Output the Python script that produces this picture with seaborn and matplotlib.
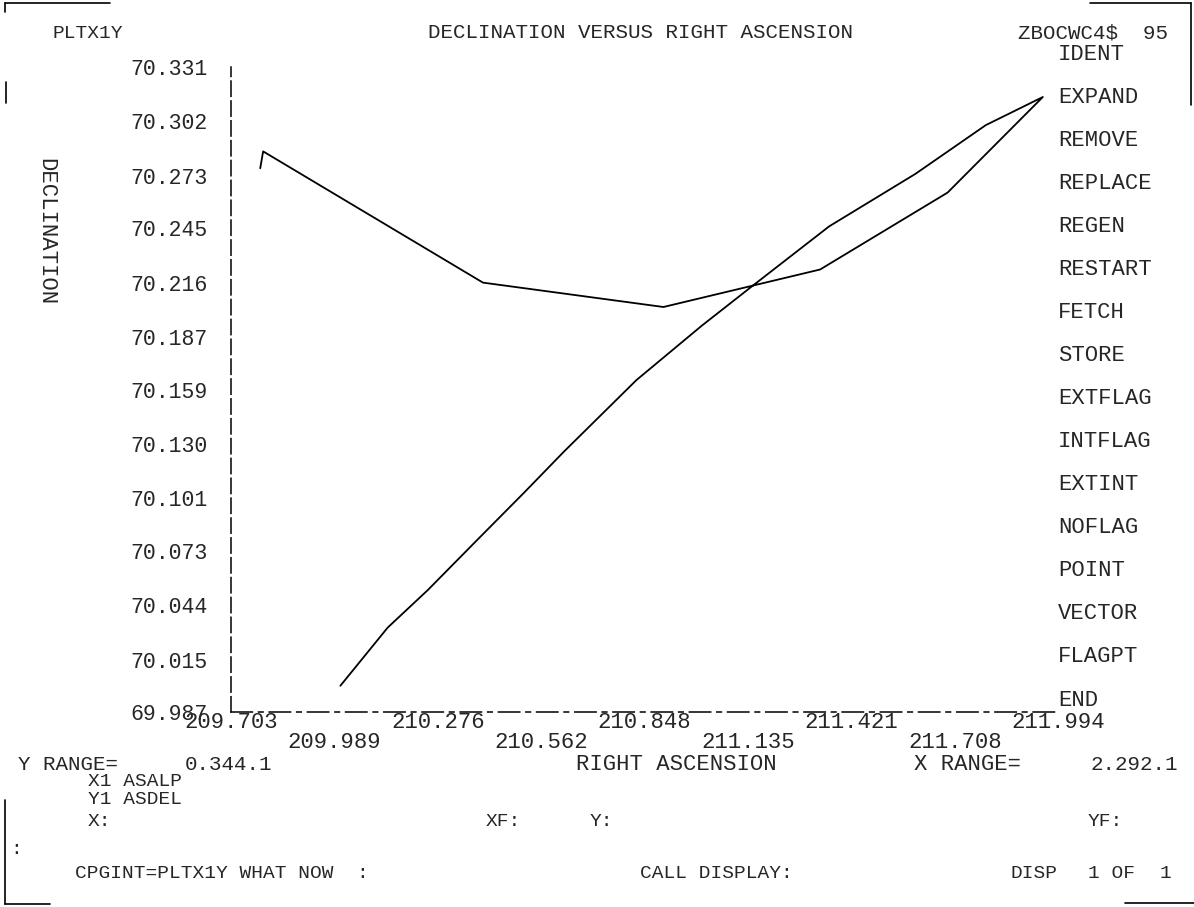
import matplotlib
matplotlib.use("Agg")
import matplotlib.pyplot as plt
import seaborn as sns
from matplotlib.lines import Line2D

# -----------------------------
# DATA
# -----------------------------
ra = [210.006, 210.137, 210.248, 210.376, 210.515, 210.626, 210.826, 211.007,
      211.146, 211.360, 211.599, 211.794, 211.952, 211.688, 211.335, 210.901,
      210.401, 209.792, 209.784]
dec = [70.001, 70.032, 70.052, 70.077, 70.104, 70.126, 70.164, 70.193,
       70.214, 70.246, 70.274, 70.300, 70.315, 70.264, 70.223, 70.203,
       70.216, 70.286, 70.277]

y_tick_labels = ["69.987", "70.015", "70.044", "70.073", "70.101", "70.130", "70.159",
                 "70.187", "70.216", "70.245", "70.273", "70.302", "70.331"]
x_tick_labels = ["209.703", "209.989", "210.276", "210.562", "210.848",
                 "211.135", "211.421", "211.708", "211.994"]

menu_items = ["IDENT", "EXPAND", "REMOVE", "REPLACE", "REGEN", "RESTART", "FETCH",
              "STORE", "EXTFLAG", "INTFLAG", "EXTINT", "NOFLAG", "POINT", "VECTOR",
              "FLAGPT", "END"]

W, H = 1194, 907
FS = 14

sns.set_style("white")
plt.rcParams["font.family"] = ["Liberation Mono", "DejaVu Sans Mono"]

fig = plt.figure(figsize=(W / 100, H / 100), dpi=100)
ax = fig.add_axes([231 / W, 1 - 712 / H, (1058 - 231) / W, (712 - 67) / H])


def px(x, y):
    return x / W, 1 - y / H


# -----------------------------
# PLOT
# -----------------------------
sns.lineplot(x=ra, y=dec, sort=False, estimator=None, color="black",
             linewidth=1.3, ax=ax)

y_ticks = [float(v) for v in y_tick_labels]
x_ticks = [float(v) for v in x_tick_labels]
ax.set_xlim(x_ticks[0], x_ticks[-1])
ax.set_ylim(y_ticks[0], y_ticks[-1])
ax.set_yticks(y_ticks)
ax.set_yticklabels(y_tick_labels, fontsize=15.5)
ax.set_xticks(x_ticks)
ax.set_xticklabels([lab if i % 2 == 0 else "\n" + lab for i, lab in enumerate(x_tick_labels)],
                   fontsize=16, linespacing=0.92)
ax.tick_params(axis="y", length=7, width=1, direction="out", pad=10, color="black")
ax.tick_params(axis="x", length=0, pad=0)
ax.set_xlabel("")
ax.set_ylabel("")

for side in ["top", "right"]:
    ax.spines[side].set_visible(False)
ax.spines["left"].set_color("black")
ax.spines["left"].set_linewidth(1.1)
ax.spines["left"].set_linestyle((0, (10, 3)))
ax.spines["bottom"].set_color("black")
ax.spines["bottom"].set_linewidth(1.1)
ax.spines["bottom"].set_linestyle((0, (14, 4, 3, 4)))

# -----------------------------
# TERMINAL TEXT
# -----------------------------
fig.text(*px(53, 33), "PLTX1Y", fontsize=FS, va="center")
fig.text(*px(640, 33), "DECLINATION VERSUS RIGHT ASCENSION", fontsize=15,
         ha="center", va="center")
fig.text(*px(1168, 33), "ZBOCWC4$  95", fontsize=15, ha="right", va="center")

for i, item in enumerate(menu_items):
    fig.text(*px(1058, 54 + i * 43.07), item, fontsize=16, va="center")

fig.text(*px(46, 232), "DECLINATION", fontsize=16, rotation=270,
         ha="center", va="center")

fig.text(*px(18, 765), "Y RANGE=", fontsize=15, va="center")
fig.text(*px(185, 765), "0.344.1", fontsize=15, va="center")
fig.text(*px(576, 765), "RIGHT ASCENSION", fontsize=16, va="center")
fig.text(*px(914, 765), "X RANGE=", fontsize=16, va="center")
fig.text(*px(1091, 765), "2.292.1", fontsize=15, va="center")

fig.text(*px(88, 782), "X1 ASALP", fontsize=FS, va="center")
fig.text(*px(88, 800), "Y1 ASDEL", fontsize=FS, va="center")
fig.text(*px(88, 822), "X:", fontsize=FS, va="center")
fig.text(*px(486, 822), "XF:", fontsize=FS, va="center")
fig.text(*px(590, 822), "Y:", fontsize=FS, va="center")
fig.text(*px(1088, 822), "YF:", fontsize=FS, va="center")
fig.text(*px(10, 849), ":", fontsize=FS, va="center")
fig.text(*px(75, 874), "CPGINT=PLTX1Y WHAT NOW  :", fontsize=FS, va="center")
fig.text(*px(640, 874), "CALL DISPLAY:", fontsize=FS, va="center")
fig.text(*px(1010, 874), "DISP", fontsize=FS, va="center")
fig.text(*px(1088, 874), "1 OF", fontsize=FS, va="center")
fig.text(*px(1160, 874), "1", fontsize=FS, va="center")

# screen frame marks
frame = [
    [(5, 3), (110, 3)], [(5, 3), (5, 12)], [(6, 82), (6, 103)],
    [(1090, 3), (1191, 3)], [(1191, 3), (1191, 105)],
    [(5, 800), (5, 904)], [(5, 904), (50, 904)], [(1125, 903), (1194, 903)],
]
for (x0, y0), (x1, y1) in frame:
    a, b = px(x0, y0)
    c, d = px(x1, y1)
    fig.add_artist(Line2D([a, c], [b, d], color="black", linewidth=1.2,
                          transform=fig.transFigure))

plt.savefig("out.png", dpi=100)
